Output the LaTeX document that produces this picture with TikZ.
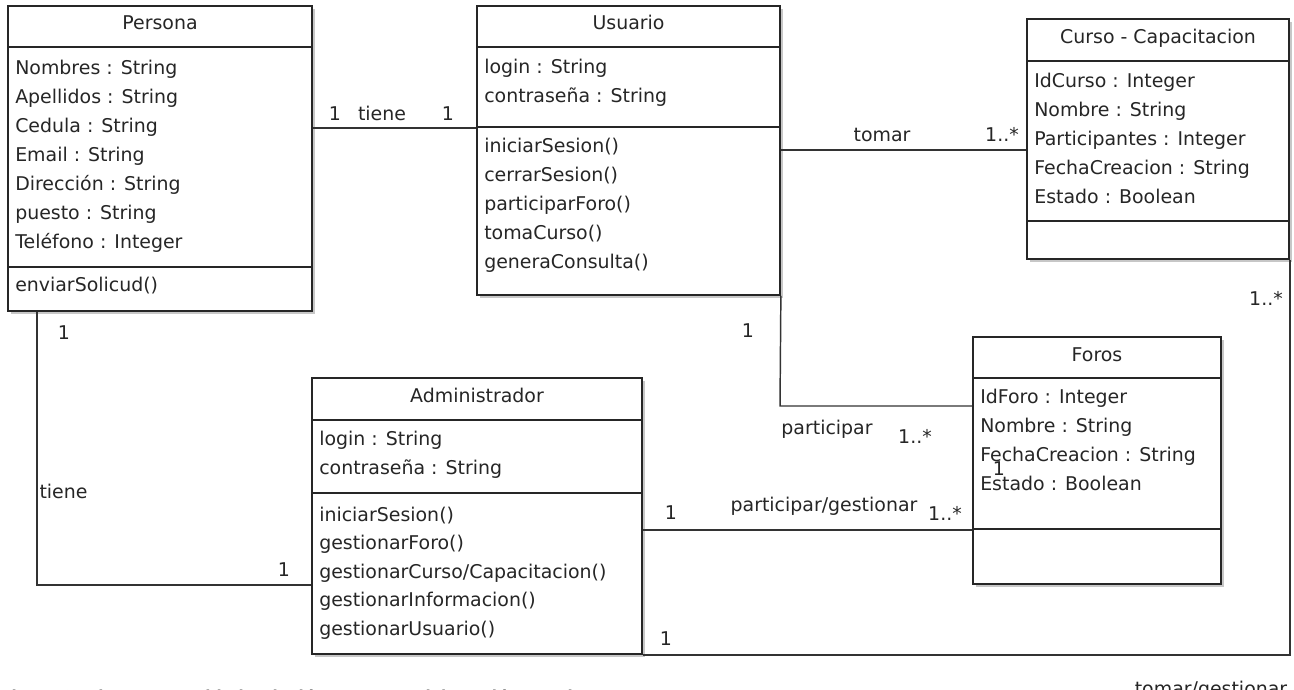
\documentclass[tikz,border=0pt]{standalone}
\usepackage{fontspec}
\setmainfont{DejaVu Sans}
\newfontfamily\capfont{Liberation Sans}
\usetikzlibrary{fit}
\tikzset{
  box/.style={draw=black!85, line width=1.3pt, fill=white, inner sep=0pt},
  shade/.style={fill=black!22},
  sepline/.style={draw=black!85, line width=1.2pt},
  conn/.style={draw=black!80, line width=1.1pt},
  txt/.style={anchor=base west, inner sep=0pt, text=black!85, font=\fontsize{14.2}{17}\selectfont},
  ttl/.style={anchor=base, inner sep=0pt, text=black!85, font=\fontsize{14.2}{17}\selectfont},
  lbl/.style={anchor=base, inner sep=0pt, text=black!85, font=\fontsize{14.2}{17}\selectfont},
}
\newcommand\umlbox[5]{%
  \fill[shade] (#2+3,#3+3) rectangle (#4+3,#5+3);
  \node[box, fit={(#2,#3) (#4,#5)}] (#1) {};}
\begin{document}
\begin{tikzpicture}[x=0.75pt, y=-0.75pt]
\clip (0,0) rectangle (1294,689);
\fill[white] (0,0) rectangle (1294,689);

\coordinate (pa) at (37,585);
\coordinate (uf) at (780,406);

% ---------- classes ----------
\umlbox{persona}{8}{6}{312}{311}
\umlbox{usuario}{477}{6}{780}{295}
\umlbox{curso}{1027}{19}{1289}{259}
\umlbox{foros}{973}{337}{1221}{584}
\umlbox{admin}{312}{378}{642}{654}

% separators
\draw[sepline] (persona.west |- 0,47) -- (persona.east |- 0,47);
\draw[sepline] (persona.west |- 0,267) -- (persona.east |- 0,267);
\draw[sepline] (usuario.west |- 0,47) -- (usuario.east |- 0,47);
\draw[sepline] (usuario.west |- 0,127) -- (usuario.east |- 0,127);
\draw[sepline] (curso.west |- 0,61) -- (curso.east |- 0,61);
\draw[sepline] (curso.west |- 0,221) -- (curso.east |- 0,221);
\draw[sepline] (foros.west |- 0,378) -- (foros.east |- 0,378);
\draw[sepline] (foros.west |- 0,529) -- (foros.east |- 0,529);
\draw[sepline] (admin.west |- 0,420) -- (admin.east |- 0,420);
\draw[sepline] (admin.west |- 0,493) -- (admin.east |- 0,493);

% connectors
\draw[conn] (persona.east |- 0,128) -- (usuario.west |- 0,128);
\draw[conn] (usuario.east |- 0,150) -- (curso.west |- 0,150);
\draw[conn] (usuario.south east) -- (uf) -- (foros.west |- uf);
\draw[conn] (admin.east |- 0,530) -- (foros.west |- 0,530);
\draw[conn] (persona.south -| pa) -- (pa) -- (admin.west |- pa);
\draw[conn] (admin.south east) -- (curso.south east |- admin.south east) -- (curso.south east);

% ---------- Persona ----------
\node[ttl] (persona-t) at (160,29) {Persona};
\node[txt] (p1) at (15,74) {Nombres : String};
\node[txt] (p2) at (15,103) {Apellidos : String};
\node[txt] (p3) at (15,132) {Cedula : String};
\node[txt] (p4) at (15,161) {Email : String};
\node[txt] (p5) at (15,190) {Dirección : String};
\node[txt] (p6) at (15,219) {puesto : String};
\node[txt] (p7) at (15,248) {Teléfono : Integer};
\node[txt] (p8) at (15,291) {enviarSolicud()};

% ---------- Usuario ----------
\node[ttl] (usuario-t) at (628.5,29) {Usuario};
\node[txt] (u1) at (484,73) {login : String};
\node[txt] (u2) at (484,102) {contraseña : String};
\node[txt] (u3) at (484,152) {iniciarSesion()};
\node[txt] (u4) at (484,181) {cerrarSesion()};
\node[txt] (u5) at (484,210) {participarForo()};
\node[txt] (u6) at (484,239) {tomaCurso()};
\node[txt] (u7) at (484,268) {generaConsulta()};

% ---------- Curso ----------
\node[ttl] (curso-t) at (1158,43) {Curso - Capacitacion};
\node[txt] (c1) at (1034,87) {IdCurso : Integer};
\node[txt] (c2) at (1034,116) {Nombre : String};
\node[txt] (c3) at (1034,145) {Participantes : Integer};
\node[txt] (c4) at (1034,174) {FechaCreacion : String};
\node[txt] (c5) at (1034,203) {Estado : Boolean};

% ---------- Foros ----------
\node[ttl] (foros-t) at (1097,361) {Foros};
\node[txt] (f1) at (980,403) {IdForo : Integer};
\node[txt] (f2) at (980,432) {Nombre : String};
\node[txt] (f3) at (980,461) {FechaCreacion : String};
\node[txt] (f4) at (980,490) {Estado : Boolean};

% ---------- Administrador ----------
\node[ttl] (admin-t) at (477,402) {Administrador};
\node[txt] (a1) at (319,445) {login : String};
\node[txt] (a2) at (319,474) {contraseña : String};
\node[txt] (a3) at (319,521) {iniciarSesion()};
\node[txt] (a4) at (319,549.5) {gestionarForo()};
\node[txt] (a5) at (319,578) {gestionarCurso/Capacitacion()};
\node[txt] (a6) at (319,606.5) {gestionarInformacion()};
\node[txt] (a7) at (319,635) {gestionarUsuario()};

% ---------- labels ----------
\node[lbl] (l1) at (335,120) {1};
\node[lbl] (l2) at (382,120) {tiene};
\node[lbl] (l3) at (448,120) {1};
\node[lbl] (l4) at (882,141) {tomar};
\node[lbl] (l5) at (1002,141) {1..*};
\node[lbl] (l6) at (748,337) {1};
\node[lbl] (l7) at (827,434) {participar};
\node[lbl] (l8) at (915,443) {1..*};
\node[lbl] (l9) at (824,511) {participar/gestionar};
\node[lbl] (l10) at (671,519) {1};
\node[lbl] (l11) at (945,520) {1..*};
\node[lbl] (l12) at (666,645) {1};
\node[lbl] (l13) at (64,339) {1};
\node[lbl] (l14) at (63.5,498) {tiene};
\node[lbl] (l15) at (284,576) {1};
\node[lbl] (l16) at (1266,305) {1..*};
\node[lbl] (l17) at (999,475) {1};
\node[lbl] (l18) at (1211,695) {tomar/gestionar};
\node[anchor=base west, inner sep=0pt, text=black!60, font=\capfont\bfseries\fontsize{14}{17}\selectfont] (cap) at (0,703) {Figura 3. Diagrama Entidad Relación. Fuente: Elaboración Propia};
\end{tikzpicture}
\end{document}
